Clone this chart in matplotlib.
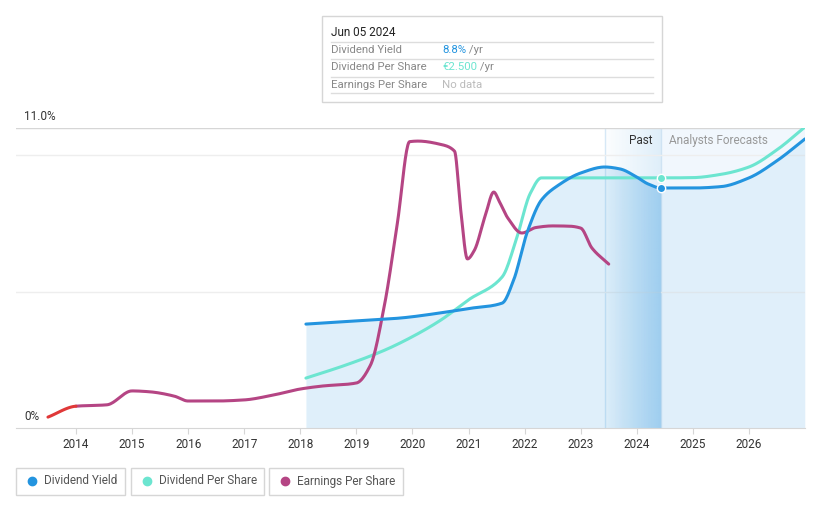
import numpy as np
import matplotlib.pyplot as plt
from matplotlib.patches import Rectangle
from matplotlib.lines import Line2D

plt.rcParams['font.family'] = ['Roboto', 'DejaVu Sans']

# dividend yield (%)
dy_x = [2018.1, 2018.8, 2019.77, 2020.5, 2021.0, 2021.6, 2021.8, 2022.05, 2022.3,
        2022.6, 2023.0, 2023.43, 2023.7, 2024.0, 2024.2, 2024.43, 2025.0, 2025.5, 2026.0,
        2026.5, 2027.0]
dy_y = [3.81, 3.9, 4.03, 4.22, 4.38, 4.58, 5.4, 7.2, 8.36, 8.9, 9.35, 9.57, 9.5, 9.2, 8.95,
        8.8, 8.8, 8.85, 9.17, 9.8, 10.6]

# dividend per share (scaled to chart)
dps_x = [2018.1, 2018.8, 2019.5, 2020.0, 2020.5, 2021.0, 2021.6, 2021.85, 2022.1, 2022.3,
         2023.0, 2024.43, 2025.0, 2025.5, 2026.0, 2026.5, 2027.0]
dps_y = [1.83, 2.3, 2.85, 3.35, 3.95, 4.7, 5.54, 6.9, 8.6, 9.17,
         9.17, 9.17, 9.18, 9.3, 9.57, 10.2, 11.04]

# earnings per share (scaled to chart)
eps_x = [2013.5, 2014.0, 2014.55, 2015.0, 2015.3, 2015.75, 2016.0, 2016.5, 2017.0, 2017.5,
         2018.0, 2018.4, 2019.0, 2019.25, 2019.5, 2019.73, 2019.95, 2020.1, 2020.5, 2020.75,
         2020.86, 2020.98, 2021.1, 2021.3, 2021.45, 2021.55, 2021.7, 2021.95, 2022.2, 2022.5,
         2022.8, 2023.0, 2023.2, 2023.5]
eps_y = [0.4, 0.8, 0.85, 1.36, 1.33, 1.17, 0.99, 0.99, 1.03, 1.2, 1.43, 1.54, 1.65, 2.3, 4.5,
         7.5, 10.5, 10.52, 10.4, 10.15, 8.0, 6.2, 6.5, 7.8, 8.65, 8.3, 7.7, 7.15, 7.35, 7.41,
         7.4, 7.33, 6.6, 6.01]

years = list(range(2014, 2027))
now = 2024.43
past_start = 2023.43

c_dy = '#2394df'
c_dps = '#6ce5d0'
c_eps = '#b54584'


def monotone(xs, ys, n=20):
    # monotone cubic curve between the points (d3 curveMonotoneX style)
    x = np.asarray(xs, float)
    y = np.asarray(ys, float)
    h = np.diff(x)
    d = np.diff(y) / h
    m = np.zeros_like(y)
    m[0], m[-1] = d[0], d[-1]
    for i in range(1, len(x) - 1):
        if d[i - 1] * d[i] <= 0:
            m[i] = 0
        else:
            w1 = 2 * h[i] + h[i - 1]
            w2 = h[i] + 2 * h[i - 1]
            m[i] = (w1 + w2) / (w1 / d[i - 1] + w2 / d[i])
    ox, oy = [], []
    for i in range(len(x) - 1):
        t = np.linspace(0, 1, n, endpoint=False)
        h00 = 2 * t**3 - 3 * t**2 + 1
        h10 = t**3 - 2 * t**2 + t
        h01 = -2 * t**3 + 3 * t**2
        h11 = t**3 - t**2
        ox.append(x[i] + t * h[i])
        oy.append(h00 * y[i] + h10 * h[i] * m[i] + h01 * y[i + 1] + h11 * h[i] * m[i + 1])
    ox.append([x[-1]])
    oy.append([y[-1]])
    return np.concatenate(ox), np.concatenate(oy)


fig = plt.figure(figsize=(8.21, 5.08), dpi=100)
ax = fig.add_axes([16 / 821, 80 / 508, (805 - 16) / 821, 300 / 508])

dyx, dyy = monotone(dy_x, dy_y)
dpx, dpy = monotone(dps_x, dps_y)
epx, epy = monotone(eps_x, eps_y)

# forecast background
ax.axvspan(now, 2027.0, color='#f1f7fd', zorder=0, lw=0)

# fill under yield: stronger in the past, lighter in the forecast
past = dyx <= now
fill = ax.fill_between(dyx[past], dyy[past], 0, color=c_dy, alpha=0.14, lw=0, zorder=1)
fut = dyx >= now
ax.fill_between(dyx[fut], dyy[fut], 0, color=c_dy, alpha=0.08, lw=0, zorder=1)

# past band gradient (light above curve, stronger below)
grad = np.zeros((2, 100, 4))
grad[..., 0] = 0x5a / 255
grad[..., 1] = 0xaa / 255
grad[..., 2] = 0xe4 / 255
grad[..., 3] = np.linspace(0.02, 0.2, 100)[None, :]
ax.imshow(grad, extent=[past_start, now, 0, 11], aspect='auto', zorder=0.5,
          interpolation='bilinear')
grad2 = grad.copy()
grad2[..., 3] = np.linspace(0.0, 0.35, 100)[None, :]
im2 = ax.imshow(grad2, extent=[past_start, now, 0, 11], aspect='auto', zorder=1.5,
                interpolation='bilinear')
im2.set_clip_path(fill.get_paths()[0], transform=ax.transData)
ax.set_xlim(2012.93, 2027.0)
ax.set_ylim(0, 11)

ax.axvline(past_start, color='#d6e8f6', lw=1, zorder=0.6)
ax.axvline(now, color='#cfe3f3', lw=1, zorder=0.6)

# gridlines
for g in [5, 10]:
    ax.axhline(g, color='#eeeeee', lw=1, zorder=0.7)
ax.axhline(11, color='#d6d6d6', lw=1, zorder=0.7)

ax.plot(dpx, dpy, color=c_dps, lw=2.2, zorder=3, solid_capstyle='round')
ax.plot(dyx, dyy, color=c_dy, lw=2.2, zorder=4, solid_capstyle='round')
cut = np.searchsorted(epx, eps_x[1])
ax.plot(epx[cut:], epy[cut:], color=c_eps, lw=2.2, zorder=3, solid_capstyle='round')
ax.plot(epx[:cut + 1], epy[:cut + 1], color='#e03838', lw=2.2, zorder=3,
        solid_capstyle='round')

ax.plot([now], [9.17], 'o', color=c_dps, ms=6, mec='white', mew=1, zorder=5)
ax.plot([now], [8.8], 'o', color=c_dy, ms=6, mec='white', mew=1, zorder=5)

for s in ['top', 'right', 'left']:
    ax.spines[s].set_visible(False)
ax.spines['bottom'].set_color('#d6d6d6')
ax.set_yticks([])
ax.set_xticks(years)
ax.set_xticklabels([str(y) for y in years], fontsize=8.5, color='#333333')
ax.tick_params(axis='x', length=4, color='#d6d6d6', pad=3)

ax.text(2012.93 + 0.15, 11.2, '11.0%', fontsize=8.5, color='#333333', va='bottom')
ax.text(2012.93 + 0.15, 0.2, '0%', fontsize=8.5, color='#333333', va='bottom')
ax.text(now - 0.15, 10.55, 'Past', fontsize=8.5, color='#333333', ha='right', va='center')
ax.text(now + 0.15, 10.55, 'Analysts Forecasts', fontsize=8.5, color='#999999',
        ha='left', va='center')

# tooltip
W, H = 821, 508
def fx(p):
    return p / W
def fy(p):
    return 1 - p / H

fig.patches.append(Rectangle((fx(322), fy(102)), fx(662) - fx(322), fy(16) - fy(102),
                             transform=fig.transFigure, fc='white', ec='#d6d6d6', lw=1,
                             zorder=10))
fig.text(fx(331), fy(32), 'Jun 05 2024', fontsize=8.5, color='#222222', va='center', zorder=11)
rows = [('Dividend Yield', '8.8%', c_dy, ' /yr'),
        ('Dividend Per Share', '€2.500', c_dps, ' /yr'),
        ('Earnings Per Share', 'No data', '#bbbbbb', '')]
for i, (lab, val, col, suf) in enumerate(rows):
    yy = 50 + i * 17.5
    fig.add_artist(Line2D([fx(331), fx(653)], [fy(yy - 8.5), fy(yy - 8.5)],
                          transform=fig.transFigure, color='#dddddd', lw=1, zorder=11))
    fig.text(fx(331), fy(yy), lab, fontsize=8.2, color='#888888', va='center', zorder=11)
    t = fig.text(fx(442), fy(yy), val, fontsize=8.2, color=col, va='center', zorder=11)
    if suf:
        fig.canvas.draw()
        bb = t.get_window_extent()
        fig.text(bb.x1 / fig.dpi / fig.get_figwidth(), fy(yy), suf, fontsize=8.2,
                 color='#888888', va='center', zorder=11)
fig.add_artist(Line2D([fx(331), fx(653)], [fy(93), fy(93)],
                      transform=fig.transFigure, color='#dddddd', lw=1, zorder=11))

# legend boxes
legend = [('Dividend Yield', c_dy, 16, 125), ('Dividend Per Share', c_dps, 131, 264),
          ('Earnings Per Share', c_eps, 269, 403)]
for lab, col, x0, x1 in legend:
    fig.patches.append(Rectangle((fx(x0), fy(495)), fx(x1) - fx(x0), fy(468) - fy(495),
                                 transform=fig.transFigure, fc='white', ec='#d6d6d6',
                                 lw=1))
    fig.add_artist(Line2D([fx(x0 + 16)], [fy(481)], marker='o', ms=6, color=col,
                          transform=fig.transFigure))
    fig.text(fx(x0 + 28), fy(481), lab, fontsize=8.5, color='#555555', va='center')

fig.savefig('out.png', dpi=100)
